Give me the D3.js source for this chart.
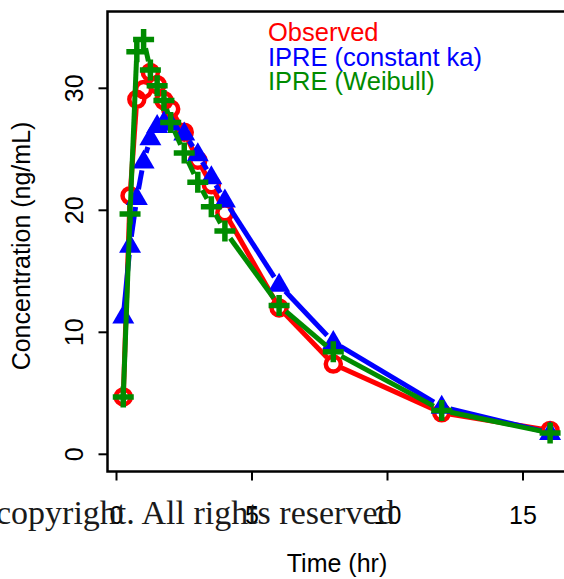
<!DOCTYPE html>
<html>
<head>
<meta charset="utf-8">
<script src="https://cdn.jsdelivr.net/npm/d3@7"></script>
<style>
  body { margin: 0; background: #fff; }
  svg { display: block; }
  text { font-family: "Liberation Sans", Arial, sans-serif; }
</style>
</head>
<body>
<div id="chart"></div>
<script>
// sampling times (hr)
const times = [0.25, 0.5, 0.75, 1, 1.25, 1.5, 1.75, 2, 2.5, 3, 3.5, 4, 6, 8, 12, 16];
// concentrations (ng/mL)
const observed    = [4.7, 21.2, 29.1, 29.9, 31.3, 30.3, 29.0, 28.3, 26.4, 24.1, 22.1, 19.8, 12.0, 7.4, 3.4, 1.95];
const ipreConstKa = [11.3, 17.1, 21.0, 24.0, 25.9, 26.9, 27.2, 27.1, 26.3, 24.6, 22.7, 20.8, 13.9, 9.2, 3.9, 1.75];
const ipreWeibull = [4.7, 19.7, 33.0, 34.0, 31.5, 30.2, 29.0, 27.2, 24.7, 22.3, 20.3, 18.3, 12.2, 8.4, 3.6, 1.75];

const xTicks = [0, 5, 10, 15];
const yTicks = [0, 10, 20, 30];
const legendLabels = ["Observed", "IPRE (constant ka)", "IPRE (Weibull)"];
const colors = ["#ff0000", "#0000ff", "#008b00"];

const width = 564, height = 579;
const box = { left: 107.5, top: 11.5, right: 575, bottom: 471.5 };

const svg = d3.select("#chart").append("svg")
    .attr("width", width)
    .attr("height", height);

const x = d3.scaleLinear().domain([0, 15]).range([116.5, 523]);
const y = d3.scaleLinear().domain([0, 30]).range([454.3, 88.3]);

// plot frame (right side runs off the picture)
svg.append("path")
    .attr("d", `M${box.right},${box.top}H${box.left}V${box.bottom}H${box.right}`)
    .attr("fill", "none")
    .attr("stroke", "#000")
    .attr("stroke-width", 2.5);

// x ticks + labels
svg.selectAll(".xtick").data(xTicks).enter().append("line")
    .attr("x1", d => x(d)).attr("x2", d => x(d))
    .attr("y1", box.bottom).attr("y2", box.bottom + 9)
    .attr("stroke", "#000").attr("stroke-width", 2);

svg.selectAll(".xlab").data(xTicks).enter().append("text")
    .attr("x", d => x(d))
    .attr("y", 524)
    .attr("text-anchor", "middle")
    .style("font-size", "25px")
    .text(d => d);

// y ticks + labels (rotated like R las=0)
svg.selectAll(".ytick").data(yTicks).enter().append("line")
    .attr("x1", box.left - 9).attr("x2", box.left)
    .attr("y1", d => y(d)).attr("y2", d => y(d))
    .attr("stroke", "#000").attr("stroke-width", 2);

svg.selectAll(".ylab").data(yTicks).enter().append("text")
    .attr("transform", d => `translate(83,${y(d)}) rotate(-90)`)
    .attr("text-anchor", "middle")
    .style("font-size", "25px")
    .text(d => d);

// axis titles
svg.append("text")
    .attr("x", 337).attr("y", 572)
    .attr("text-anchor", "middle")
    .style("font-size", "25px")
    .text("Time (hr)");

svg.append("text")
    .attr("transform", "translate(30,246) rotate(-90)")
    .attr("text-anchor", "middle")
    .style("font-size", "25px")
    .text("Concentration (ng/mL)");

// lines drawn R type="b" style: segments stop short of the points
const gap = 9;
function drawSeries(values, color, shape) {
    const pts = times.map((t, i) => [x(t), y(values[i])]);
    const segs = [];
    for (let i = 0; i < pts.length - 1; i++) {
        const [x0, y0] = pts[i], [x1, y1] = pts[i + 1];
        const len = Math.hypot(x1 - x0, y1 - y0);
        if (len <= 2 * gap) continue;
        const ux = (x1 - x0) / len, uy = (y1 - y0) / len;
        segs.push([x0 + ux * gap, y0 + uy * gap, x1 - ux * gap, y1 - uy * gap]);
    }
    const g = svg.append("g");
    g.selectAll("line").data(segs).enter().append("line")
        .attr("x1", d => d[0]).attr("y1", d => d[1])
        .attr("x2", d => d[2]).attr("y2", d => d[3])
        .attr("stroke", color).attr("stroke-width", 5);

    if (shape === "circle") {
        g.selectAll("circle").data(pts).enter().append("circle")
            .attr("cx", d => d[0]).attr("cy", d => d[1]).attr("r", 7.5)
            .attr("fill", "none").attr("stroke", color).attr("stroke-width", 4.5);
    } else if (shape === "triangle") {
        g.selectAll("path").data(pts).enter().append("path")
            .attr("d", d => `M${d[0]},${d[1] - 12}L${d[0] + 11},${d[1] + 7}L${d[0] - 11},${d[1] + 7}Z`)
            .attr("fill", color);
    } else {
        g.selectAll("path").data(pts).enter().append("path")
            .attr("d", d => `M${d[0] - 10.5},${d[1]}H${d[0] + 10.5}M${d[0]},${d[1] - 10.5}V${d[1] + 10.5}`)
            .attr("stroke", color).attr("stroke-width", 5.5).attr("fill", "none");
    }
}

drawSeries(observed, colors[0], "circle");
drawSeries(ipreConstKa, colors[1], "triangle");
drawSeries(ipreWeibull, colors[2], "cross");

// legend (text only)
svg.selectAll(".legend").data(legendLabels).enter().append("text")
    .attr("x", 268)
    .attr("y", (d, i) => 41 + i * 24.5)
    .style("font-size", "25.5px")
    .style("fill", (d, i) => colors[i])
    .text(d => d);

// watermark
svg.append("text")
    .attr("x", -4).attr("y", 524)
    .style("font-family", "'Liberation Serif', 'Times New Roman', serif")
    .style("font-size", "34px")
    .style("fill", "#1a1a1a")
    .text("copyright. All rights reserved");
</script>
</body>
</html>
